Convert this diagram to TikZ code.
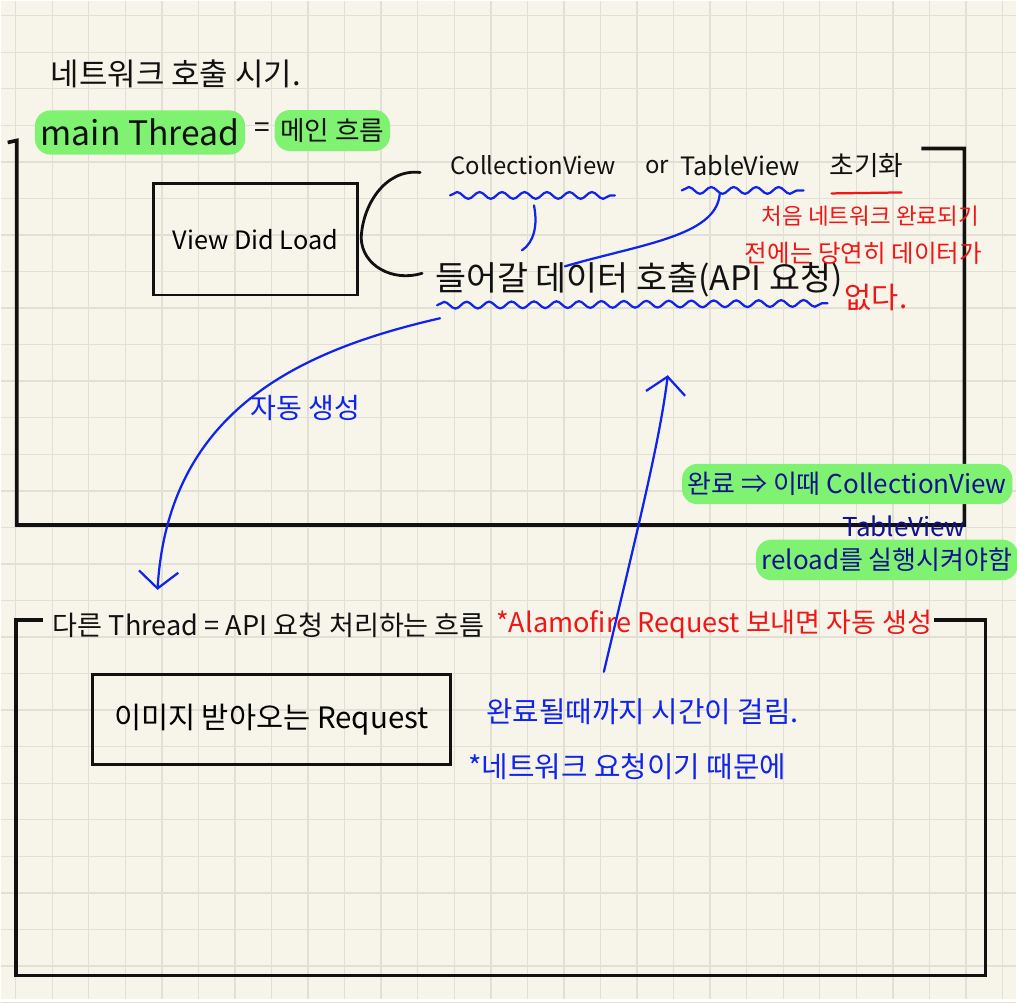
\documentclass[tikz,border=0pt]{standalone}
\usepackage{fontspec}
\setmainfont{Noto Sans CJK KR}
\usetikzlibrary{positioning}
\usetikzlibrary{decorations.pathmorphing, arrows.meta}

\definecolor{paper}{HTML}{F7F5EA}
\definecolor{gridc}{HTML}{E2E0D4}
\definecolor{pen}{HTML}{111111}
\definecolor{bluepen}{HTML}{1024EC}
\definecolor{navypen}{HTML}{12128C}
\definecolor{redpen}{HTML}{F01616}
\definecolor{marker}{HTML}{80F272}

\begin{document}
\begin{tikzpicture}[x=0.025cm, y=-0.025cm,
  fs/.style={font=\fontsize{#1pt}{#1pt}\selectfont},
  txt/.style={inner sep=0pt, anchor=west, text=pen},
  hl/.style={fill=marker, rounded corners=11pt, inner xsep=4pt, inner ysep=6pt, anchor=west},
  frame/.style={draw=pen, line width=2.6pt},
  boxed/.style={draw=pen, line width=2pt, inner sep=0pt},
  wave/.style={draw=bluepen, line width=1.6pt, line cap=round, decorate,
    decoration={snake, amplitude=2.4pt, segment length=16pt}},
  blueline/.style={draw=bluepen, line width=1.6pt, line cap=round},
  barb/.style={-{Straight Barb[length=12pt, width=28pt, line width=1.6pt]}}]

\fill[paper] (0,0) rectangle (1017,1000);
\foreach \i in {0,...,27} {
  \draw[gridc, line width=1pt] ({15+36.6*\i},0) -- ({15+36.6*\i},1000);
  \draw[gridc, line width=1pt] (0,{15+36.6*\i}) -- (1017,{15+36.6*\i});
}
\useasboundingbox (0,0) rectangle (1017,1000);

\node[txt, fs=22] (title) at (50,73) {네트워크 호출 시기.};
\node[txt, hl, fs=24] (main) at (34,132) {main Thread};
\node[txt, fs=20] (eq) at (254,130) {=};
\node[txt, hl, fs=19] (flow) at (274,130) {메인 흐름};

\coordinate (tl) at (7,142);
\coordinate (tr) at (922,148);
\draw[frame] (tl) -- (16,140) -- (16,525) -- (965,525) -- (965,148) -- (tr);

\node[boxed, fs=18, minimum width=5.1cm, minimum height=2.78cm] (vdl) at (255,239) {View Did Load};
\coordinate (brtop) at (420,172);
\coordinate (brtip) at (361,238);
\coordinate (brbot) at (422,273);
\draw[pen, line width=2pt, line cap=round] (brtop) .. controls (385,168) and (362,205) .. (brtip)
  .. controls (362,265) and (392,282) .. (brbot);

\node[txt, fs=17] (cv) at (450,165) {CollectionView};
\node[txt, fs=17] (or) at (645,167) {or};
\node[txt, fs=18] (tv) at (680,165) {TableView};
\node[txt, fs=19] (init) at (830,165) {초기화};
\draw[redpen, line width=1.6pt, line cap=round] (832,193) -- (902,192);
\draw[wave] (450,195) -- (615,195);
\draw[wave] (682,190) -- (804,190);
\coordinate (cvw) at (534,205);
\coordinate (tvw) at (720,194);

\node[txt, fs=24] (data) at (435,279) {들어갈 데이터 호출(API 요청)};
\draw[wave] (437,305) -- (828,303);
\draw[blueline] (cvw) .. controls (538,225) and (534,242) .. (522,250);
\draw[blueline] (tvw) .. controls (716,236) and (640,244) .. (565,266);

\node[txt, fs=16, text=redpen] (red1) at (762,216) {처음 네트워크 완료되기};
\node[txt, fs=17.5, text=redpen] (red2) at (745,253) {전에는 당연히 데이터가};
\node[txt, fs=21, text=redpen] (red3) at (845,297) {없다.};

\node[txt, fs=20, text=bluepen] (auto) at (250,408) {자동 생성};
\coordinate (down) at (157,590);
\draw[blueline, barb] (440,318) .. controls (300,350) and (168,410) .. (down);

\node[txt, hl, fs=18.5, text=navypen] (done1) at (682,484) {완료 ⇒ 이때 CollectionView};
\node[txt, hl, fs=18.5, text=navypen] (done3) at (756,560) {reload를 실행시켜야함};
\node[txt, fs=18.5, text=navypen] (done2) at (843,526) {TableView};

\node[txt, fs=19.3] (other) at (52,625) {다른 Thread = API 요청 처리하는 흐름};
\node[txt, fs=19.3, text=redpen] (alamo) at (496,625) {*Alamofire Request 보내면 자동 생성};
\coordinate (bl) at (42,620);
\coordinate (br) at (935,620);
\draw[frame] (bl) -- (15,620) -- (15,976) -- (986,976) -- (986,620) -- (br);

\node[boxed, fs=21, minimum width=8.95cm, minimum height=2.25cm] (req) at (271,720) {이미지 받아오는 Request};

\node[txt, fs=20.5, text=bluepen] (wait1) at (486,712) {완료될때까지 시간이 걸림.};
\node[txt, fs=20.5, text=bluepen] (wait2) at (468,767) {*네트워크 요청이기 때문에};
\coordinate (upfrom) at (604,672);
\coordinate (upto) at (668,375);
\draw[blueline, barb] (upfrom) .. controls (640,520) and (660,440) .. (upto);
\end{tikzpicture}
\end{document}
